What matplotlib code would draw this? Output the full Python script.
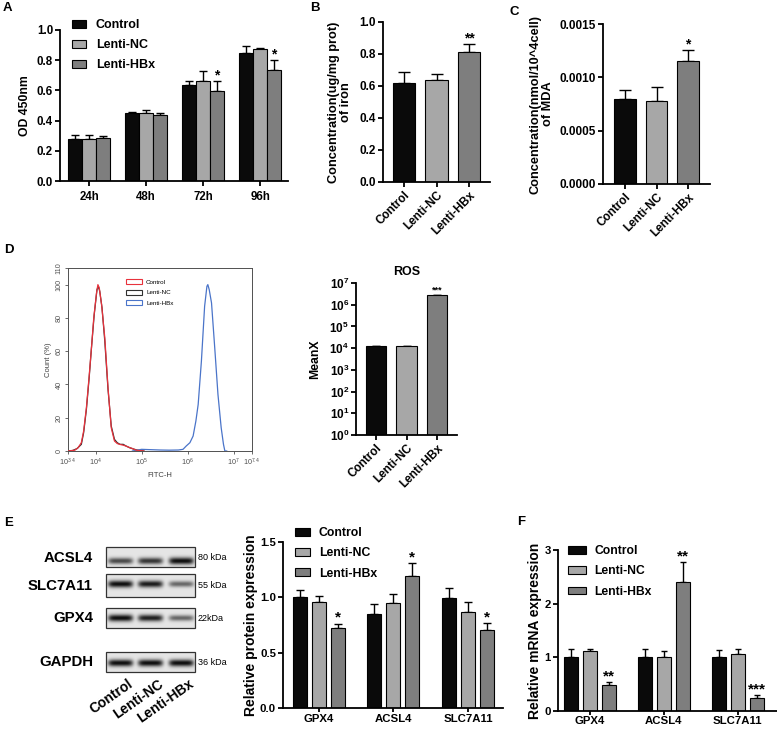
import numpy as np
import matplotlib
matplotlib.use('Agg')
import matplotlib.pyplot as plt
from matplotlib.patches import Patch, Rectangle

W, H = 777, 730
plt.rcParams['font.family'] = ['Liberation Sans', 'DejaVu Sans']
plt.rcParams['mathtext.fontset'] = 'custom'
plt.rcParams['mathtext.rm'] = 'Liberation Sans'
plt.rcParams['mathtext.bf'] = 'Liberation Sans:bold'
plt.rcParams['mathtext.it'] = 'Liberation Sans:italic'

# ---------------- data ----------------
groups3 = ['Control', 'Lenti-NC', 'Lenti-HBx']
colors = ['#0a0a0a', '#a7a7a7', '#7e7e7e']

# A: CCK-8
timepoints = ['24h', '48h', '72h', '96h']
od_control = [0.28, 0.45, 0.635, 0.85]
od_nc = [0.28, 0.45, 0.663, 0.876]
od_hbx = [0.285, 0.435, 0.596, 0.735]
od_control_err = [0.025, 0.005, 0.025, 0.045]
od_nc_err = [0.025, 0.02, 0.065, 0.008]
od_hbx_err = [0.015, 0.015, 0.066, 0.065]
od_stars = ['', '', '*', '*']

# B: iron
iron = [0.62, 0.638, 0.814]
iron_err = [0.066, 0.037, 0.046]
iron_stars = ['', '', '**']

# C: MDA
mda = [0.00080, 0.000778, 0.00115]
mda_err = [0.00008, 0.000132, 0.000103]
mda_stars = ['', '', '*']

# D: ROS mean fluorescence
ros = [1.2e4, 1.2e4, 2.7e6]
ros_err = [600, 600, 1.5e5]
ros_stars = ['', '', '***']

# D: flow histograms (log10 FITC-H, count %)
flow_ctrl_logx = [3.40, 3.55, 3.62, 3.69, 3.74, 3.80, 3.86, 3.91, 3.96, 4.02, 4.05, 4.08, 4.13,
                  4.20, 4.27, 4.34, 4.41, 4.47, 4.52, 4.60, 4.66, 4.74, 4.80, 4.88, 4.95, 5.05]
flow_ctrl_cnt = [0, 0.5, 2, 5, 12, 26, 45, 62, 80, 95, 100, 98, 88,
                 68, 38, 14, 6, 4.5, 4, 3.5, 3, 2, 1.5, 0.5, 0.3, 0]
flow_nc_logx = [3.40, 3.50, 3.60, 3.69, 3.74, 3.80, 3.86, 3.91, 3.97, 4.03, 4.06, 4.09, 4.14,
                4.20, 4.27, 4.34, 4.41, 4.47, 4.53, 4.60, 4.66, 4.74, 4.82, 4.90, 4.98, 5.05]
flow_nc_cnt = [0, 0.3, 1.5, 4, 11, 25, 44, 62, 82, 97, 99, 96, 86,
               66, 37, 15, 7, 5, 4, 4, 3, 2, 1.2, 0.6, 0.2, 0]
flow_hbx_logx = [4.80, 5.00, 5.20, 5.40, 5.60, 5.80, 5.90, 5.97, 6.05, 6.12, 6.18, 6.23,
                 6.30, 6.37, 6.42, 6.44, 6.47, 6.52, 6.59, 6.66, 6.73, 6.78, 6.81, 6.85]
flow_hbx_cnt = [0, 1, 0.8, 0.6, 0.5, 0.6, 1, 3, 5, 9, 18, 28,
                54, 87, 99, 100, 97, 89, 62, 34, 14, 4, 0, 0]
flow_xticks = [3.4, 4, 5, 6, 7, 7.4]
flow_xticklabels = ['$10^{3.4}$', '$10^{4}$', '$10^{5}$', '$10^{6}$', '$10^{7}$', '$10^{7.4}$']
flow_yticks = [0, 20, 40, 60, 80, 100, 110]

# E: western blot
blot_proteins = ['ACSL4', 'SLC7A11', 'GPX4', 'GAPDH']
blot_sizes = ['80 kDa', '55 kDa', '22kDa', '36 kDa']
band_density = [[0.62, 0.70, 0.85],
                [0.85, 0.80, 0.50],
                [0.85, 0.78, 0.50],
                [0.85, 0.85, 0.85]]

# E: protein quantification
genes = ['GPX4', 'ACSL4', 'SLC7A11']
prot_control = [1.00, 0.85, 0.99]
prot_nc = [0.955, 0.95, 0.87]
prot_hbx = [0.723, 1.196, 0.708]
prot_control_err = [0.065, 0.09, 0.094]
prot_nc_err = [0.06, 0.08, 0.088]
prot_hbx_err = [0.04, 0.114, 0.06]
prot_stars = ['*', '*', '*']

# F: mRNA
mrna_control = [1.008, 1.0, 1.0]
mrna_nc = [1.114, 1.0, 1.07]
mrna_hbx = [0.479, 2.40, 0.243]
mrna_control_err = [0.152, 0.16, 0.13]
mrna_nc_err = [0.036, 0.11, 0.09]
mrna_hbx_err = [0.06, 0.38, 0.047]
mrna_stars = ['**', '**', '***']

# ---------------- helpers ----------------
fig = plt.figure(figsize=(W / 100, H / 100), dpi=100)


def add_ax(l, t, r, b):
    return fig.add_axes([l / W, 1 - b / H, (r - l) / W, (b - t) / H])


def ftext(x, y, s, **kw):
    fig.text(x / W, 1 - y / H, s, **kw)


def style(ax, lw=1.3, labelsize=8):
    for s in ['top', 'right']:
        ax.spines[s].set_visible(False)
    for s in ['left', 'bottom']:
        ax.spines[s].set_linewidth(lw)
    ax.tick_params(direction='out', length=3.5, width=lw, labelsize=labelsize, pad=1.5)
    for lab in ax.get_xticklabels() + ax.get_yticklabels():
        lab.set_fontweight('bold')


def bars(ax, xs, vals, errs, width, color, cap, stars=None, star_size=9):
    ax.bar(xs, vals, width, color=color, edgecolor='black', linewidth=0.8, zorder=2)
    ax.errorbar(xs, vals, yerr=[np.zeros(len(vals)), errs], fmt='none', ecolor='black',
                elinewidth=1.0, capsize=cap, capthick=1.0, zorder=1)
    if stars is not None:
        for x, v, e, s in zip(xs, vals, errs, stars):
            if s:
                ax.annotate(s, (x, v + e), xytext=(0, -1), textcoords='offset points',
                            ha='center', va='bottom', fontsize=star_size, fontweight='bold')


def legend(ax, x, y, fs, hl, hh, ls):
    handles = [Patch(facecolor=c, edgecolor='black', linewidth=0.8) for c in colors]
    ax.legend(handles, groups3, loc='upper left', bbox_to_anchor=(x / W, 1 - y / H),
              bbox_transform=fig.transFigure, frameon=False, borderpad=0, borderaxespad=0,
              handlelength=hl, handleheight=hh, labelspacing=ls, handletextpad=0.75,
              prop={'weight': 'bold', 'size': fs})


# ---------------- A ----------------
axA = add_ax(60, 30, 288, 181)
xA = np.arange(len(timepoints))
wA = 0.245
for i, (v, e) in enumerate([(od_control, od_control_err), (od_nc, od_nc_err), (od_hbx, od_hbx_err)]):
    bars(axA, xA + (i - 1) * wA, v, e, wA, colors[i], 3, od_stars if i == 2 else None, 10)
axA.set_xlim(-0.51, 3.49)
axA.set_ylim(0, 1.0)
axA.set_yticks(np.arange(0, 1.01, 0.2))
axA.set_yticklabels([f'{t:.1f}' for t in np.arange(0, 1.01, 0.2)])
axA.set_xticks(xA)
axA.set_xticklabels(timepoints)
axA.set_ylabel('OD 450nm', fontsize=8.8, fontweight='bold')
axA.yaxis.set_label_coords((31 - 60) / 228, 0.5)
style(axA, labelsize=8.3)
axA.tick_params(axis='x', pad=3.5)
legend(axA, 72, 19, 9, 1.15, 0.6, 0.65)

# ---------------- B ----------------
axB = add_ax(383, 22, 490, 182)
x3 = np.arange(3)
for i in range(3):
    bars(axB, [x3[i]], [iron[i]], [iron_err[i]], 0.68, colors[i], 4, [iron_stars[i]], 10)
axB.set_xlim(-0.65, 2.65)
axB.set_ylim(0, 1.0)
axB.set_yticks(np.arange(0, 1.01, 0.2))
axB.set_yticklabels([f'{t:.1f}' for t in np.arange(0, 1.01, 0.2)])
axB.set_xticks(x3)
axB.set_xticklabels(groups3, rotation=45, ha='right', rotation_mode='anchor')
axB.set_ylabel('Concentration(ug/mg prot)\nof iron', fontsize=9.2, fontweight='bold', linespacing=1.05)
axB.yaxis.set_label_coords((352 - 383) / 107, 0.5)
style(axB, labelsize=8.5)

# ---------------- C ----------------
axC = add_ax(603, 24, 710, 184)
for i in range(3):
    bars(axC, [x3[i]], [mda[i]], [mda_err[i]], 0.67, colors[i], 4, [mda_stars[i]], 10)
axC.set_xlim(-0.7, 2.7)
axC.set_ylim(0, 0.0015)
axC.set_yticks([0, 0.0005, 0.0010, 0.0015])
axC.set_yticklabels(['0.0000', '0.0005', '0.0010', '0.0015'])
axC.set_xticks(x3)
axC.set_xticklabels(groups3, rotation=45, ha='right', rotation_mode='anchor')
axC.set_ylabel('Concentration(nmol/10^4cell)\nof MDA', fontsize=9.2, fontweight='bold', linespacing=1.05)
axC.yaxis.set_label_coords((554 - 603) / 107, 0.5)
style(axC, labelsize=8.5)

# ---------------- D flow ----------------
axD = add_ax(68, 268, 252, 451)
axD.plot(flow_nc_logx, flow_nc_cnt, color='#303030', lw=0.9, label='Lenti-NC', zorder=2)
axD.plot(flow_ctrl_logx, flow_ctrl_cnt, color='#e8323c', lw=0.9, label='Control', zorder=3)
axD.plot(flow_hbx_logx, flow_hbx_cnt, color='#4a74c9', lw=0.9, label='Lenti-HBx', zorder=2)
axD.set_xlim(3.4, 7.4)
axD.set_ylim(0, 110)
axD.set_xticks(flow_xticks)
axD.set_xticklabels(flow_xticklabels)
axD.set_yticks(flow_yticks)
axD.set_yticklabels([str(t) for t in flow_yticks], rotation=90, va='center')
for s in axD.spines.values():
    s.set_linewidth(0.7)
    s.set_color('#505050')
axD.tick_params(direction='out', length=2.5, width=0.6, labelsize=5.2, colors='#505050', pad=1.5)
axD.set_ylabel('Count (%)', fontsize=5.5, color='#404040')
axD.yaxis.set_label_coords((52 - 68) / 184, 0.5)
axD.set_xlabel('FITC-H', fontsize=5.5, color='#404040', labelpad=3)
lh = [Patch(facecolor='white', edgecolor=c, linewidth=0.8) for c in ['#e8323c', '#303030', '#4a74c9']]
axD.legend(lh, ['Control', 'Lenti-NC', 'Lenti-HBx'], loc='upper left',
           bbox_to_anchor=(123 / W, 1 - 276 / H), bbox_transform=fig.transFigure,
           frameon=False, borderpad=0, handlelength=2.6, handleheight=0.9,
           labelspacing=0.75, handletextpad=0.6, prop={'size': 4.5})

# ---------------- D ROS ----------------
axR = add_ax(356, 283, 457, 435)
for i in range(3):
    bars(axR, [x3[i]], [ros[i]], [ros_err[i]], 0.66, colors[i], 3, None)
axR.set_yscale('log')
axR.set_ylim(1, 1e7)
axR.set_xlim(-0.66, 2.66)
axR.set_yticks([10.0 ** k for k in range(8)])
axR.set_yticklabels([r'$\mathbf{10^{%d}}$' % k for k in range(8)])
axR.minorticks_off()
axR.set_xticks(x3)
axR.set_xticklabels(groups3, rotation=45, ha='right', rotation_mode='anchor')
for x, v, e, s in zip(x3, ros, ros_err, ros_stars):
    if s:
        axR.annotate(s, (x, v + e), xytext=(0, 0), textcoords='offset points',
                     ha='center', va='bottom', fontsize=6.5, fontweight='bold')
axR.set_title('ROS', fontsize=9, fontweight='bold', pad=6)
axR.set_ylabel('MeanX', fontsize=8.8, fontweight='bold')
axR.yaxis.set_label_coords((321 - 356) / 101, 0.5)
style(axR, labelsize=8.5)

# ---------------- E blot ----------------
axW = add_ax(0, 540, 230, 730)
axW.set_xlim(0, 230)
axW.set_ylim(730, 540)
axW.axis('off')
box_top = [547, 574, 608, 652]
box_bot = [567, 597, 628, 672]
band_y = [561, 584, 618, 663]
lane_x = [120.5, 150.5, 181.5]
bx0, bx1 = 106, 195
for r in range(4):
    t, b = box_top[r], box_bot[r]
    nx, ny = (bx1 - bx0) * 3, (b - t) * 3
    X, Y = np.meshgrid(np.linspace(bx0, bx1, nx), np.linspace(t, b, ny))
    img = np.full(X.shape, 0.90)
    for li, d in enumerate(band_density[r]):
        hh = 2.2 + 1.6 * d
        img -= d * np.exp(-((X - lane_x[li]) / 12.5) ** 6) * np.exp(-((Y - band_y[r]) / hh) ** 2)
    axW.imshow(np.clip(img, 0, 1), cmap='gray', vmin=0, vmax=1, extent=(bx0, bx1, b, t),
               aspect='auto', interpolation='bilinear', zorder=1)
    axW.add_patch(Rectangle((bx0, t), bx1 - bx0, b - t, fill=False, edgecolor='#333333',
                            linewidth=0.9, zorder=2))
    axW.text(93, (t + b) / 2 + 0.5, blot_proteins[r], ha='right', va='center',
             fontsize=10.8, fontweight='bold')
    axW.text(198, (t + b) / 2 + 0.5, blot_sizes[r], ha='left', va='center', fontsize=6.5)
for li, name in enumerate(groups3):
    axW.text(lane_x[li] + 7, 677, name, rotation=35, ha='right', va='top',
             rotation_mode='anchor', fontsize=10, fontweight='bold')

# ---------------- E bars ----------------
axE = add_ax(283, 542, 503, 708)
off = 0.255
wE = 0.19
for i, (v, e) in enumerate([(prot_control, prot_control_err), (prot_nc, prot_nc_err),
                            (prot_hbx, prot_hbx_err)]):
    bars(axE, x3 + (i - 1) * off, v, e, wE, colors[i], 3, prot_stars if i == 2 else None, 11)
axE.set_xlim(-0.48, 2.47)
axE.set_ylim(0, 1.5)
axE.set_yticks([0, 0.5, 1.0, 1.5])
axE.set_yticklabels(['0.0', '0.5', '1.0', '1.5'])
axE.set_xticks(x3)
axE.set_xticklabels(genes)
axE.set_ylabel('Relative protein expression', fontsize=10, fontweight='bold')
axE.yaxis.set_label_coords((258 - 283) / 220, 0.5)
style(axE, labelsize=8.2)
axE.tick_params(axis='x', length=3, pad=1)
legend(axE, 295, 527, 8.8, 1.2, 0.6, 0.68)

# ---------------- F bars ----------------
axF = add_ax(558, 550, 777, 711)
for i, (v, e) in enumerate([(mrna_control, mrna_control_err), (mrna_nc, mrna_nc_err),
                            (mrna_hbx, mrna_hbx_err)]):
    bars(axF, x3 + (i - 1) * off, v, e, wE, colors[i], 2.5, mrna_stars if i == 2 else None, 11)
axF.set_xlim(-0.43, 2.53)
axF.set_ylim(0, 3)
axF.set_yticks([0, 1, 2, 3])
axF.set_xticks(x3)
axF.set_xticklabels(genes)
axF.set_ylabel('Relative mRNA expression', fontsize=10, fontweight='bold')
axF.yaxis.set_label_coords((542 - 558) / 219, 0.5)
style(axF, labelsize=8.2)
axF.tick_params(axis='x', length=3, pad=0.5)
legend(axF, 568, 545, 8.7, 1.45, 0.6, 0.7)

# ---------------- panel letters ----------------
for lab, x, y in [('A', 3, 2), ('B', 310, 2), ('C', 510, 6), ('D', 4, 244), ('E', 4, 517), ('F', 517, 516)]:
    ftext(x, y, lab, ha='left', va='top', fontsize=9.5, fontweight='bold')

fig.savefig('out.png', dpi=100)
